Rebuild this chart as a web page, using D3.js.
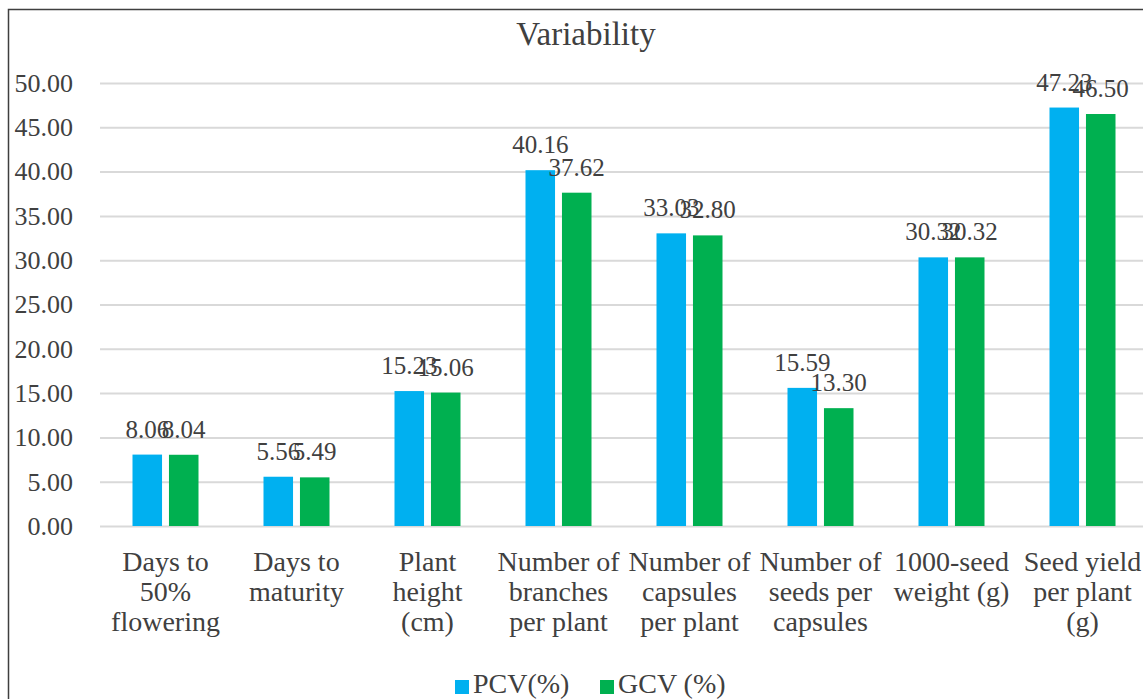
<!DOCTYPE html>
<html>
<head>
<meta charset="utf-8">
<script src="https://cdn.jsdelivr.net/npm/d3@7"></script>
<style>
  body { margin: 0; background: #fff; }
</style>
</head>
<body>
<div id="chart"></div>
<script>
// chart data
var categories = ["D50", "DM", "PH", "NB", "NC", "NS", "TSW", "SY"];
var categoryLines = [
  ["Days to", "50%", "flowering"],
  ["Days to", "maturity"],
  ["Plant", "height", "(cm)"],
  ["Number of", "branches", "per plant"],
  ["Number of", "capsules", "per plant"],
  ["Number of", "seeds per", "capsules"],
  ["1000-seed", "weight (g)"],
  ["Seed yield", "per plant", "(g)"]
];
var seriesNames = ["PCV(%)", "GCV (%)"];
var pcv = [8.06, 5.56, 15.23, 40.16, 33.03, 15.59, 30.32, 47.23];
var gcv = [8.04, 5.49, 15.06, 37.62, 32.80, 13.30, 30.32, 46.50];
var yTicks = [0, 5, 10, 15, 20, 25, 30, 35, 40, 45, 50];

var seriesValues = [pcv, gcv];
var seriesColors = ["#00B0F0", "#00B050"];

var FONT = "'Times New Roman', Tinos, 'Liberation Serif', 'Nimbus Roman', 'Nimbus Roman No9 L', FreeSerif, 'Noto Serif', 'DejaVu Serif', Georgia, serif";
var TEXT_COLOR = "#404040";

var width = 1143, height = 699;
var plotLeft = 100, plotRight = 1148, plotTop = 83, plotBottom = 526;

var svg = d3.select("#chart").append("svg")
    .attr("width", width)
    .attr("height", height);

// outer frame (only left and top edges show in the crop)
svg.append("rect")
    .attr("x", 8.5).attr("y", 9.5)
    .attr("width", width + 20).attr("height", height + 20)
    .attr("fill", "none")
    .attr("stroke", "#3f3f3f")
    .attr("stroke-width", 1.5);

svg.append("text")
    .attr("x", 586).attr("y", 45)
    .attr("text-anchor", "middle")
    .style("font-family", FONT)
    .style("font-size", "33px")
    .style("fill", TEXT_COLOR)
    .text("Variability");

var x = d3.scaleBand().domain(categories).range([plotLeft, plotRight]).padding(0);
var bw = x.bandwidth();
var xs = d3.scaleBand().domain(seriesNames)
    .range([bw / 2 - 33, bw / 2 + 33])
    .paddingInner(0.19).paddingOuter(0);
var y = d3.scaleLinear().domain([0, 50]).range([plotBottom, plotTop]);

// y axis with gridlines
var yAxis = svg.append("g")
    .attr("transform", "translate(" + plotLeft + ",0)")
    .call(d3.axisLeft(y)
      .tickValues(yTicks)
      .tickSize(-(plotRight - plotLeft))
      .tickPadding(27)
      .tickFormat(d3.format(".2f")));
yAxis.select(".domain").remove();
yAxis.selectAll(".tick line").attr("stroke", "#d9d9d9").attr("stroke-width", 2);
yAxis.selectAll(".tick text")
    .style("font-family", FONT)
    .style("font-size", "26px")
    .style("fill", TEXT_COLOR);

// bars
var groups = svg.selectAll("g.cat")
    .data(categories)
    .enter().append("g")
    .attr("class", "cat")
    .attr("transform", function(d) { return "translate(" + x(d) + ",0)"; });

seriesNames.forEach(function(name, s) {
  groups.append("rect")
      .attr("x", xs(name))
      .attr("y", function(d, i) { return y(seriesValues[s][i]); })
      .attr("width", xs.bandwidth())
      .attr("height", function(d, i) { return y(0) - y(seriesValues[s][i]); })
      .attr("fill", seriesColors[s]);
});

// data labels, drawn after the bars so they overlap like the original
seriesNames.forEach(function(name, s) {
  groups.append("text")
      .attr("x", xs(name) + xs.bandwidth() / 2)
      .attr("y", function(d, i) { return y(seriesValues[s][i]) - 17; })
      .attr("text-anchor", "middle")
      .style("font-family", FONT)
      .style("font-size", "25px")
      .style("fill", TEXT_COLOR)
      .text(function(d, i) { return seriesValues[s][i].toFixed(2); });
});

// category labels
groups.each(function(d, i) {
  var t = d3.select(this).append("text")
      .attr("text-anchor", "middle")
      .style("font-family", FONT)
      .style("font-size", "28px")
      .style("fill", TEXT_COLOR);
  categoryLines[i].forEach(function(line, k) {
    t.append("tspan")
        .attr("x", bw / 2)
        .attr("y", 571 + k * 30)
        .text(line);
  });
});

// legend
var legendX = [455, 600];
var legend = svg.selectAll("g.legend")
    .data(seriesNames)
    .enter().append("g")
    .attr("class", "legend")
    .attr("transform", function(d, i) { return "translate(" + legendX[i] + ",0)"; });
legend.append("rect")
    .attr("x", 0).attr("y", 680)
    .attr("width", 14).attr("height", 14)
    .attr("fill", function(d, i) { return seriesColors[i]; });
legend.append("text")
    .attr("x", 18).attr("y", 693)
    .style("font-family", FONT)
    .style("font-size", "28px")
    .style("fill", TEXT_COLOR)
    .text(function(d) { return d; });
</script>
</body>
</html>
